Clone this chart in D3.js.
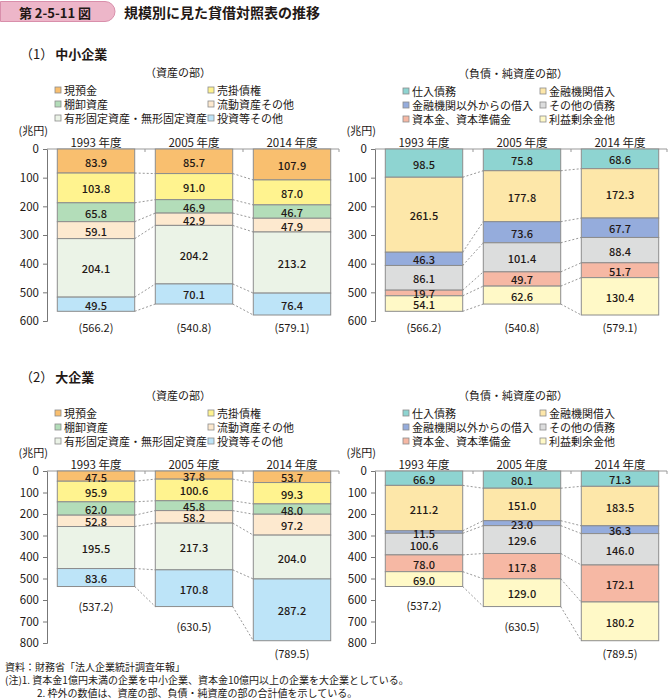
<!DOCTYPE html>
<html><head><meta charset="utf-8">
<script src="https://cdn.jsdelivr.net/npm/d3@7"></script>
<style>
body{margin:0;background:#fff;}
text{font-family:"Noto Sans CJK JP","Noto Sans",sans-serif;fill:#231815;}
</style></head>
<body><svg id="c" width="669" height="700"></svg>
<script>
const years = ["1993 年度","2005 年度","2014 年度"];
const assetCats = ["現預金","売掛債権","棚卸資産","流動資産その他","有形固定資産・無形固定資産","投資等その他"];
const liabCats = ["仕入債務","金融機関借入","金融機関以外からの借入","その他の債務","資本金、資本準備金","利益剰余金他"];
const assetColors = ["#F9BF6F","#FFF38F","#B3DDB9","#FDE9CF","#EBF3E7","#BDE4F8"];
const liabColors = ["#8ED4D1","#FDE7A9","#95ACDC","#DCDDDD","#F6B8A4","#FFF9C7"];
const smeAssets = [[83.9,103.8,65.8,59.1,204.1,49.5],[85.7,91.0,46.9,42.9,204.2,70.1],[107.9,87.0,46.7,47.9,213.2,76.4]];
const smeLiab = [[98.5,261.5,46.3,86.1,19.7,54.1],[75.8,177.8,73.6,101.4,49.7,62.6],[68.6,172.3,67.7,88.4,51.7,130.4]];
const largeAssets = [[47.5,95.9,62.0,52.8,195.5,83.6],[37.8,100.6,45.8,58.2,217.3,170.8],[53.7,99.3,48.0,97.2,204.0,287.2]];
const largeLiab = [[66.9,211.2,11.5,100.6,78.0,69.0],[80.1,151.0,23.0,129.6,117.8,129.0],[71.3,183.5,36.3,146.0,172.1,180.2]];
const smeTotals = ["(566.2)","(540.8)","(579.1)"];
const largeTotals = ["(537.2)","(630.5)","(789.5)"];
const smeTicks = [0,100,200,300,400,500,600];
const largeTicks = [0,100,200,300,400,500,600,700,800];

const svg = d3.select("#c");

// header
const hb = svg.append("g");
hb.append("path").attr("d","M0.5,1.5 H105 A10,10 0 0 1 105,21.5 H0.5 Z").attr("fill","#EDB6C9").attr("stroke","#D98FAB");
hb.append("text").attr("x",55).attr("y",12).attr("text-anchor","middle").attr("dominant-baseline","central")
  .attr("font-size",13).attr("font-weight","bold").text("第 2-5-11 図");
svg.append("text").attr("x",124).attr("y",12).attr("dominant-baseline","central")
  .attr("font-size",14).attr("font-weight","bold").text("規模別に見た貸借対照表の推移");

function section(dy, num, name){
  const t = svg.append("text").attr("x",20).attr("y",53+dy).attr("dominant-baseline","central").attr("font-size",13);
  t.append("tspan").text("（"+num+"）");
  t.append("tspan").attr("font-weight","bold").attr("dx",2).text(name);
}

function panel(opts){
  const {ax, xEnd, y0, yMax, maxVal, ticks, data, cats, colors, totals, header, hx, legX1, legX2, legY, fixedTotalY} = opts;
  const g = svg.append("g");
  const x = d3.scaleBand().domain(years).range([ax, xEnd]).paddingInner(0.21).paddingOuter(0.105);
  const y = d3.scaleLinear().domain([0, maxVal]).range([y0, yMax]);
  g.append("text").attr("x",hx).attr("y",legY-18).attr("text-anchor","middle").attr("dominant-baseline","central")
    .attr("font-size",11).text(header);
  const leg = g.selectAll("g.leg").data(cats).join("g")
    .attr("transform",(d,i)=>`translate(${i%2===0?legX1:legX2},${legY+Math.floor(i/2)*14})`);
  leg.append("rect").attr("x",-3).attr("y",-3).attr("width",6).attr("height",6)
    .attr("fill",(d,i)=>colors[i]).attr("stroke","#8c8c8c").attr("stroke-width",0.8);
  leg.append("text").attr("x",6).attr("y",0).attr("dominant-baseline","central").attr("font-size",11).text(d=>d);
  g.append("text").attr("x",ax+1).attr("y",y0-19).attr("text-anchor","end").attr("dominant-baseline","central")
    .attr("font-size",11).text("(兆円)");
  g.selectAll("text.yr").data(years).join("text").attr("x",d=>x(d)+x.bandwidth()/2).attr("y",y0-7)
    .attr("text-anchor","middle").attr("dominant-baseline","central").attr("font-size",11.5).text(d=>d);
  const yAxis = d3.axisLeft(y).tickValues(ticks).tickSize(4).tickPadding(4).tickFormat(d3.format("d"));
  const ya = g.append("g").attr("transform",`translate(${ax},0)`).call(yAxis);
  ya.select(".domain").attr("stroke","#777");
  ya.selectAll(".tick line").attr("stroke","#777");
  ya.selectAll(".tick text").attr("font-size",11.5).attr("fill","#231815").style("font-family","'Noto Sans CJK JP',sans-serif");
  g.append("line").attr("x1",ax).attr("x2",xEnd-2).attr("y1",y0).attr("y2",y0).attr("stroke","#999");
  const bounds = [x.step()*1+ax, x.step()*2+ax, xEnd-2];
  g.selectAll("line.tk").data(bounds).join("line").attr("x1",d=>d).attr("x2",d=>d).attr("y1",y0).attr("y2",y0+3).attr("stroke","#999");
  const stacked = data.map(vals=>{let c=0; return vals.map(v=>{const s=c; c+=v; return [s,c,v];});});
  for(let i=0;i<years.length-1;i++){
    const cumA = stacked[i].map(d=>d[1]);
    const cumB = stacked[i+1].map(d=>d[1]);
    cumA.forEach((v,k)=>{
      g.append("line").attr("x1",x(years[i])+x.bandwidth()).attr("x2",x(years[i+1]))
        .attr("y1",y(v)).attr("y2",y(cumB[k])).attr("stroke","#8c8c8c").attr("stroke-width",0.9).attr("stroke-dasharray","2,2");
    });
  }
  years.forEach((yr,i)=>{
    const bg = g.append("g");
    bg.selectAll("rect").data(stacked[i]).join("rect")
      .attr("x",x(yr)).attr("width",x.bandwidth())
      .attr("y",d=>y(d[0])).attr("height",d=>y(d[1])-y(d[0]))
      .attr("fill",(d,k)=>colors[k]).attr("stroke","#8c8c8c").attr("stroke-width",1);
    bg.selectAll("text").data(stacked[i]).join("text")
      .attr("x",x(yr)+x.bandwidth()/2).attr("y",d=>(y(d[0])+y(d[1]))/2+0.5)
      .attr("text-anchor","middle").attr("dominant-baseline","central")
      .attr("font-size",11).attr("font-weight",500).text(d=>d[2].toFixed(1));
    const bottom = y(stacked[i][stacked[i].length-1][1]);
    const ty = fixedTotalY ? yMax+6 : Math.min(bottom+19, yMax+10);
    g.append("text").attr("x",x(yr)+x.bandwidth()/2).attr("y",ty).attr("text-anchor","middle")
      .attr("dominant-baseline","central").attr("font-size",11).text(totals[i]);
  });
}

section(0,"1","中小企業");
panel({ax:47,xEnd:341,y0:149,yMax:321,maxVal:600,ticks:smeTicks,data:smeAssets,cats:assetCats,colors:assetColors,
  totals:smeTotals,header:"（資産の部）",hx:178,legX1:58,legX2:211,legY:90,fixedTotalY:true});
panel({ax:375,xEnd:669,y0:149,yMax:321,maxVal:600,ticks:smeTicks,data:smeLiab,cats:liabCats,colors:liabColors,
  totals:smeTotals,header:"（負債・純資産の部）",hx:513,legX1:406,legX2:543,legY:91,fixedTotalY:true});
section(323,"2","大企業");
panel({ax:47,xEnd:341,y0:471,yMax:643,maxVal:800,ticks:largeTicks,data:largeAssets,cats:assetCats,colors:assetColors,
  totals:largeTotals,header:"（資産の部）",hx:178,legX1:58,legX2:211,legY:413,fixedTotalY:false});
panel({ax:375,xEnd:669,y0:471,yMax:643,maxVal:800,ticks:largeTicks,data:largeLiab,cats:liabCats,colors:liabColors,
  totals:largeTotals,header:"（負債・純資産の部）",hx:513,legX1:406,legX2:543,legY:413,fixedTotalY:false});

const notes = [
  {x:5,y:666,t:"資料：財務省「法人企業統計調査年報」"},
  {x:5,y:679,t:"(注)1. 資本金1億円未満の企業を中小企業、資本金10億円以上の企業を大企業としている。"},
  {x:37,y:692,t:"2. 枠外の数値は、資産の部、負債・純資産の部の合計値を示している。"}
];
svg.selectAll("text.note").data(notes).join("text").attr("class","note").attr("x",d=>d.x).attr("y",d=>d.y)
  .attr("dominant-baseline","central").attr("font-size",10).text(d=>d.t);
</script></body></html>
